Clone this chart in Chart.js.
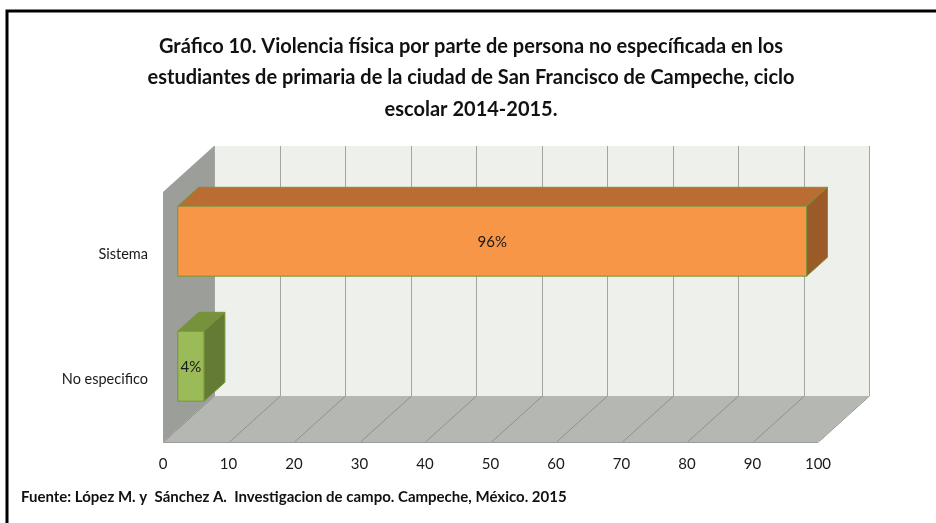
<!DOCTYPE html>
<html>
<head>
<meta charset="utf-8">
<script src="https://cdn.jsdelivr.net/npm/chart.js@4"></script>
<style>
  html, body { margin: 0; padding: 0; background: #fff; }
  #wrap { width: 936px; height: 523px; position: relative; }
</style>
</head>
<body>
<div id="wrap"><canvas id="chart"></canvas></div>
<script>
  const categories = ["Sistema", "No especifico"];
  const values = [96, 4];
  const valueLabels = ["96%", "4%"];
  const frontColors = ["#f79646", "#9bbb59"];
  const topColors = ["#b96d33", "#76923c"];
  const sideColors = ["#9a5b29", "#637b33"];
  const titleLines = [
    "Gráfico 10. Violencia física por parte de persona no específicada en los",
    "estudiantes de primaria de la ciudad de San Francisco de Campeche, ciclo",
    "escolar 2014-2015."
  ];
  const sourceText = "Fuente: López M. y  Sánchez A.  Investigacion de campo. Campeche, México. 2015";

  const FONT = "Lato, 'Open Sans', sans-serif";
  // full depth of the 3d box (back wall offset)
  const DEPTH = { dx: 51, dy: -46 };
  // bar front / back position inside the depth
  const BAR_FRONT = 0.29;
  const BAR_BACK = 0.70;

  function poly(ctx, pts, fill, stroke) {
    ctx.beginPath();
    ctx.moveTo(pts[0][0], pts[0][1]);
    for (let i = 1; i < pts.length; i++) ctx.lineTo(pts[i][0], pts[i][1]);
    ctx.closePath();
    if (fill) { ctx.fillStyle = fill; ctx.fill(); }
    if (stroke) { ctx.strokeStyle = stroke; ctx.lineWidth = 1; ctx.stroke(); }
  }

  const wallsPlugin = {
    id: "walls3d",
    beforeDraw(chart) {
      const ctx = chart.ctx;
      ctx.save();
      ctx.fillStyle = "#fff";
      ctx.fillRect(0, 0, chart.width, chart.height);
      // title
      ctx.fillStyle = "#111";
      ctx.font = "bold 20px " + FONT;
      ctx.textAlign = "center";
      ctx.textBaseline = "middle";
      const ty = [47, 78, 110];
      titleLines.forEach((t, i) => ctx.fillText(t, 471, ty[i]));
      // source
      ctx.font = "bold 15px " + FONT;
      ctx.textAlign = "left";
      ctx.fillText(sourceText, 21, 497);
      // frame
      ctx.strokeStyle = "#000";
      ctx.lineWidth = 3;
      ctx.beginPath();
      ctx.moveTo(7, chart.height);
      ctx.lineTo(7, 11);
      ctx.lineTo(chart.width, 11);
      ctx.stroke();
      ctx.restore();
    },
    beforeDatasetsDraw(chart) {
      const { ctx, chartArea: a } = chart;
      const xs = chart.scales.x;
      const { dx, dy } = DEPTH;
      ctx.save();
      // back wall
      ctx.fillStyle = "#eef1eb";
      ctx.fillRect(a.left + dx, a.top + dy, a.right - a.left, a.bottom - a.top);
      // left wall
      poly(ctx, [[a.left, a.top], [a.left + dx, a.top + dy], [a.left + dx, a.bottom + dy], [a.left, a.bottom]], "#9c9e9a");
      // floor
      poly(ctx, [[a.left, a.bottom], [a.right, a.bottom], [a.right + dx, a.bottom + dy], [a.left + dx, a.bottom + dy]], "#b5b8b2");
      // grid lines on back wall and floor
      ctx.lineWidth = 1;
      xs.ticks.forEach(t => {
        const px = Math.round(xs.getPixelForValue(t.value)) + 0.5;
        ctx.strokeStyle = "#a3a5a1";
        ctx.beginPath();
        ctx.moveTo(px + dx, a.top + dy);
        ctx.lineTo(px + dx, a.bottom + dy);
        ctx.stroke();
        ctx.strokeStyle = "#8f918d";
        ctx.beginPath();
        ctx.moveTo(px, a.bottom);
        ctx.lineTo(px + dx, a.bottom + dy);
        ctx.stroke();
      });
      ctx.strokeStyle = "#9a9c98";
      ctx.beginPath();
      ctx.moveTo(a.left, a.bottom + 0.5);
      ctx.lineTo(a.right, a.bottom + 0.5);
      ctx.stroke();
      ctx.restore();
    },
    afterDatasetsDraw(chart) {
      const { ctx } = chart;
      const { dx, dy } = DEPTH;
      const fx = dx * BAR_FRONT, fy = dy * BAR_FRONT;
      const bx = dx * (BAR_BACK - BAR_FRONT), by = dy * (BAR_BACK - BAR_FRONT);
      const meta = chart.getDatasetMeta(0);
      ctx.save();
      meta.data.forEach((bar, i) => {
        const p = bar.getProps(["x", "y", "base", "height"], true);
        const x0 = p.base + fx, x1 = p.x + fx;
        const y0 = p.y - p.height / 2 + fy, y1 = p.y + p.height / 2 + fy;
        const edge = "#77933c";
        poly(ctx, [[x0, y0], [x1, y0], [x1 + bx, y0 + by], [x0 + bx, y0 + by]], topColors[i], edge);
        poly(ctx, [[x1, y0], [x1 + bx, y0 + by], [x1 + bx, y1 + by], [x1, y1]], sideColors[i], edge);
        poly(ctx, [[x0, y0], [x1, y0], [x1, y1], [x0, y1]], frontColors[i], edge);
        ctx.fillStyle = "#1a1a1a";
        ctx.font = "15px " + FONT;
        ctx.textAlign = "center";
        ctx.textBaseline = "middle";
        ctx.fillText(valueLabels[i], (x0 + x1) / 2, (y0 + y1) / 2 + 1);
      });
      ctx.restore();
    }
  };

  new Chart(document.getElementById("chart"), {
    type: "bar",
    data: {
      labels: categories,
      datasets: [{
        data: values,
        backgroundColor: "rgba(0,0,0,0)",
        borderWidth: 0,
        categoryPercentage: 1,
        barPercentage: 0.56
      }]
    },
    options: {
      indexAxis: "y",
      responsive: true,
      maintainAspectRatio: false,
      animation: false,
      layout: { padding: { top: 192, right: 118, bottom: 0, left: 0 } },
      plugins: {
        legend: { display: false },
        title: { display: false },
        tooltip: { enabled: false }
      },
      scales: {
        x: {
          min: 0,
          max: 100,
          ticks: { stepSize: 10, padding: 13, color: "#1a1a1a", font: { family: FONT, size: 15 } },
          grid: { display: false, drawTicks: false },
          border: { display: false },
          afterFit(scale) { scale.height = 81; }
        },
        y: {
          ticks: { padding: 15, color: "#1a1a1a", font: { family: FONT, size: 14.5 } },
          grid: { display: false, drawTicks: false },
          border: { display: false },
          afterFit(scale) { scale.width = 163; }
        }
      }
    },
    plugins: [wallsPlugin]
  });
</script>
</body>
</html>
